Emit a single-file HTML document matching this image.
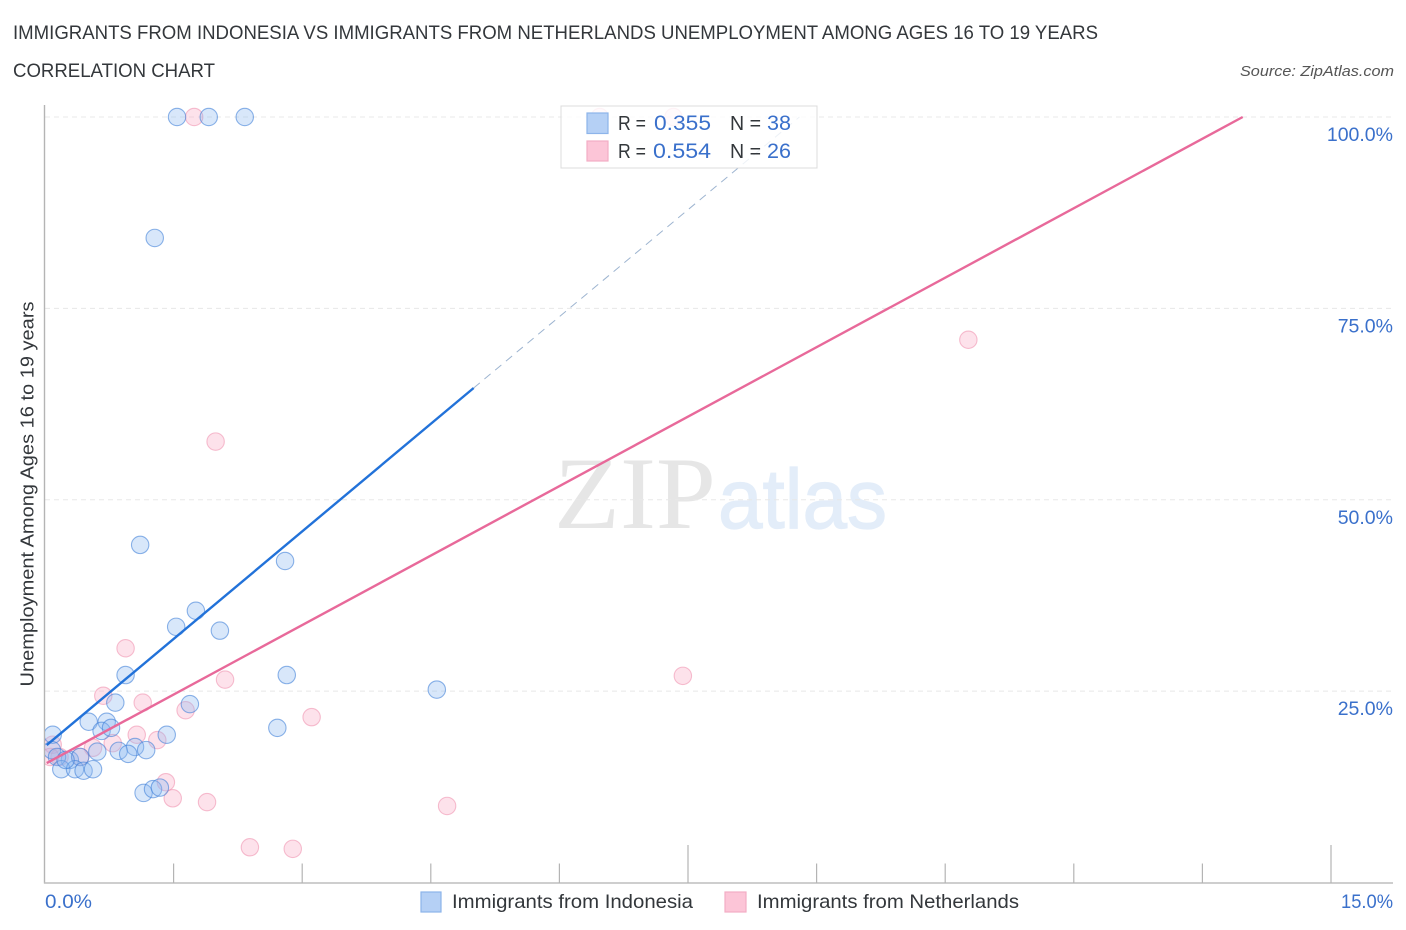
<!DOCTYPE html>
<html lang="en">
<head>
<meta charset="utf-8">
<title>Immigrants from Indonesia vs Immigrants from Netherlands Unemployment</title>
<style>
html,body{margin:0;padding:0;background:#fff;}
body{width:1406px;height:930px;overflow:hidden;font-family:"Liberation Sans",sans-serif;}
svg{display:block;}
text{font-family:"Liberation Sans",sans-serif;}
</style>
</head>
<body>
<svg id="chart" width="1406" height="930" viewBox="0 0 1406 930" xmlns="http://www.w3.org/2000/svg">
  <defs>
    <clipPath id="plot-clip"><rect x="45" y="95" width="1348" height="788"/></clipPath>
  </defs>
  <rect x="0" y="0" width="1406" height="930" fill="#fff"/>
  <text x="13" y="39" font-size="19" fill="#33373b" textLength="1085" lengthAdjust="spacingAndGlyphs">IMMIGRANTS FROM INDONESIA VS IMMIGRANTS FROM NETHERLANDS UNEMPLOYMENT AMONG AGES 16 TO 19 YEARS</text>
  <text x="13" y="77" font-size="19" fill="#33373b" textLength="202" lengthAdjust="spacingAndGlyphs">CORRELATION CHART</text>
  <text x="1394" y="76" font-size="15" font-style="italic" fill="#555" text-anchor="end" textLength="154" lengthAdjust="spacingAndGlyphs">Source: ZipAtlas.com</text>

  <g id="watermark">
    <text x="554" y="528" font-size="103" fill="#e6e6e6" style="font-family:'Liberation Serif',serif" textLength="162" lengthAdjust="spacingAndGlyphs">ZIP</text>
    <text x="718" y="528" font-size="84" fill="#e3edf9" stroke="#e3edf9" stroke-width="1.2" style="font-family:'Liberation Sans',sans-serif" textLength="169" lengthAdjust="spacingAndGlyphs">atlas</text>
  </g>

  <g id="grid"></g>
  <g id="axes"></g>
  <g id="pink-points" clip-path="url(#plot-clip)"></g>
  <g id="blue-points" clip-path="url(#plot-clip)"></g>
  <g id="trends"></g>
  <g id="tick-labels"></g>

  <text transform="translate(33.5,494) rotate(-90)" font-size="18.5" fill="#33373b" text-anchor="middle" textLength="385" lengthAdjust="spacingAndGlyphs">Unemployment Among Ages 16 to 19 years</text>

  <g id="stats-legend">
    <rect x="561" y="106" width="256" height="62" fill="#fff" fill-opacity="0.82" stroke="#dcdcdc" stroke-width="1"/>
    <rect x="587" y="113" width="21" height="20.5" fill="#b5d0f5" stroke="#8db4ea" stroke-width="1.2"/>
    <rect x="587" y="141" width="21" height="20" fill="#fcc5d7" stroke="#f3adc4" stroke-width="1.2"/>
    <text x="618" y="130" font-size="20" fill="#33373b" textLength="28" lengthAdjust="spacingAndGlyphs">R =</text>
    <text x="654" y="130" font-size="21.5" fill="#3a70cb" textLength="57" lengthAdjust="spacingAndGlyphs">0.355</text>
    <text x="730" y="130" font-size="20" fill="#33373b" textLength="31" lengthAdjust="spacingAndGlyphs">N =</text>
    <text x="767" y="130" font-size="21.5" fill="#3a70cb" textLength="24" lengthAdjust="spacingAndGlyphs">38</text>
    <text x="618" y="158" font-size="20" fill="#33373b" textLength="28" lengthAdjust="spacingAndGlyphs">R =</text>
    <text x="653" y="158" font-size="21.5" fill="#3a70cb" textLength="58" lengthAdjust="spacingAndGlyphs">0.554</text>
    <text x="730" y="158" font-size="20" fill="#33373b" textLength="31" lengthAdjust="spacingAndGlyphs">N =</text>
    <text x="767" y="158" font-size="21.5" fill="#3a70cb" textLength="24" lengthAdjust="spacingAndGlyphs">26</text>
  </g>

  <g id="bottom-legend">
    <rect x="421" y="892" width="20" height="20" fill="#b5d0f5" stroke="#8db4ea" stroke-width="1.2"/>
    <text x="452" y="908" font-size="19.5" fill="#33373b" textLength="241" lengthAdjust="spacingAndGlyphs">Immigrants from Indonesia</text>
    <rect x="725" y="892" width="21" height="20" fill="#fcc5d7" stroke="#f3adc4" stroke-width="1.2"/>
    <text x="757" y="908" font-size="19.5" fill="#33373b" textLength="262" lengthAdjust="spacingAndGlyphs">Immigrants from Netherlands</text>
  </g>
</svg>

<script>
const xTickValues = [0, 1.5, 3, 4.5, 6, 7.5, 9, 10.5, 12, 13.5, 15];
const xMajorTicks = [7.5, 15];
const yGridValues = [25, 50, 75, 100];
const yTickLabels = ["25.0%", "50.0%", "75.0%", "100.0%"];
const xMinLabel = "0.0%";
const xMaxLabel = "15.0%";

const indonesiaX = [1.54, 1.91, 2.33, 1.28, 1.11, 2.80, 1.76, 1.53, 2.04, 0.94, 2.82, 4.57, 1.69, 0.82, 0.51, 0.72, 0.66, 0.77, 2.71, 1.42, 0.09, 1.05, 1.18, 0.86, 0.97, 0.61, 0.08, 0.29, 0.14, 0.41, 0.19, 0.35, 0.45, 0.56, 1.15, 1.26, 1.34, 0.24];
const indonesiaY = [100, 100, 100, 84.2, 44.1, 42.0, 35.5, 33.4, 32.9, 27.1, 27.1, 25.2, 23.3, 23.5, 21.0, 21.0, 19.8, 20.2, 20.2, 19.3, 19.3, 17.7, 17.3, 17.2, 16.8, 17.1, 17.3, 16.0, 16.4, 16.4, 14.8, 14.8, 14.6, 14.8, 11.7, 12.2, 12.4, 16.0];

const netherlandsX = [1.74, 6.47, 7.33, 10.77, 1.99, 0.94, 7.44, 2.10, 0.68, 1.14, 3.11, 1.64, 1.07, 1.31, 0.79, 0.56, 0.09, 0.17, 1.41, 1.49, 1.89, 4.69, 2.39, 2.89, 0.06, 0.41];
const netherlandsY = [100, 100, 100, 70.9, 57.6, 30.6, 27.0, 26.5, 24.4, 23.5, 21.6, 22.5, 19.3, 18.6, 18.2, 17.6, 18.0, 16.4, 13.1, 11.0, 10.5, 10.0, 4.6, 4.4, 16.4, 16.4];

const indonesiaTrendX = [0.02, 5.0];
const indonesiaTrendY = [17.95, 64.6];
const indonesiaExtensionX = [5.0, 8.8];
const indonesiaExtensionY = [64.6, 100];
const netherlandsTrendX = [0.02, 13.97];
const netherlandsTrendY = [15.6, 100];

const SVG_NS = "http://www.w3.org/2000/svg";
function xScale(v) { return 45 + v * (1331 - 45) / 15; }
function yScale(v) { return 882.5 - v * (882.5 - 117) / 100; }
function make(tag, attrs, parent) {
  const el = document.createElementNS(SVG_NS, tag);
  for (const k in attrs) el.setAttribute(k, attrs[k]);
  parent.appendChild(el);
  return el;
}

const gridG = document.getElementById("grid");
yGridValues.forEach(function (v) {
  const g = make("line", { x1: 45, x2: 1393, y1: yScale(v), y2: yScale(v), stroke: "#e8e8e8", "stroke-width": 1, "stroke-dasharray": "5 4" }, gridG);
  
  
});

const axesG = document.getElementById("axes");
const yAxis = make("line", { x1: 44.5, x2: 44.5, y1: 105, y2: 883.5, stroke: "#b4b4b4", "stroke-width": 1.4 }, axesG);


const xAxis = make("line", { x1: 44, x2: 1393, y1: 883, y2: 883, stroke: "#bdbdbd", "stroke-width": 1.4 }, axesG);


xTickValues.slice(1).forEach(function (v) {
  const major = xMajorTicks.indexOf(v) >= 0;
  const t = make("line", { x1: xScale(v), x2: xScale(v), y1: major ? 845 : 863.5, y2: 883, stroke: "#b4b4b4", "stroke-width": 1.2 }, axesG);
  
  
});

function drawPoints(groupId, xs, ys, fill, stroke, name) {
  const g = document.getElementById(groupId);
  xs.forEach(function (x, i) {
    const c = make("circle", { cx: xScale(x), cy: yScale(ys[i]), r: 8.7, fill: fill, stroke: stroke, "stroke-width": 1.1 }, g);
    
    
  });
}
drawPoints("pink-points", netherlandsX, netherlandsY, "rgba(248,170,196,0.34)", "rgba(238,140,172,0.55)", "netherlands-point");
drawPoints("blue-points", indonesiaX, indonesiaY, "rgba(140,184,240,0.34)", "rgba(60,125,215,0.58)", "indonesia-point");

const trendG = document.getElementById("trends");
const extLine = make("line", { x1: xScale(indonesiaExtensionX[0]), y1: yScale(indonesiaExtensionY[0]), x2: xScale(indonesiaExtensionX[1]), y2: yScale(indonesiaExtensionY[1]), stroke: "#9db4d0", "stroke-width": 1, "stroke-dasharray": "8 6" }, trendG);


const nlLine = make("line", { x1: xScale(netherlandsTrendX[0]), y1: yScale(netherlandsTrendY[0]), x2: xScale(netherlandsTrendX[1]), y2: yScale(netherlandsTrendY[1]), stroke: "#e8699a", "stroke-width": 2.4 }, trendG);


const idLine = make("line", { x1: xScale(indonesiaTrendX[0]), y1: yScale(indonesiaTrendY[0]), x2: xScale(indonesiaTrendX[1]), y2: yScale(indonesiaTrendY[1]), stroke: "#2272d9", "stroke-width": 2.4 }, trendG);



const labelG = document.getElementById("tick-labels");
yGridValues.forEach(function (v, i) {
  const t = make("text", { x: 1393, y: yScale(v) + 24, "font-size": 19.5, fill: "#3a70cb", "text-anchor": "end" }, labelG);
  
  
  t.textContent = yTickLabels[i];
});
const xMin = make("text", { x: 45, y: 908, "font-size": 19.5, fill: "#3a70cb", textLength: 47, lengthAdjust: "spacingAndGlyphs" }, labelG);


xMin.textContent = xMinLabel;
const xMax = make("text", { x: 1341, y: 908, "font-size": 19.5, fill: "#3a70cb", textLength: 52, lengthAdjust: "spacingAndGlyphs" }, labelG);


xMax.textContent = xMaxLabel;
</script>
</body>
</html>
